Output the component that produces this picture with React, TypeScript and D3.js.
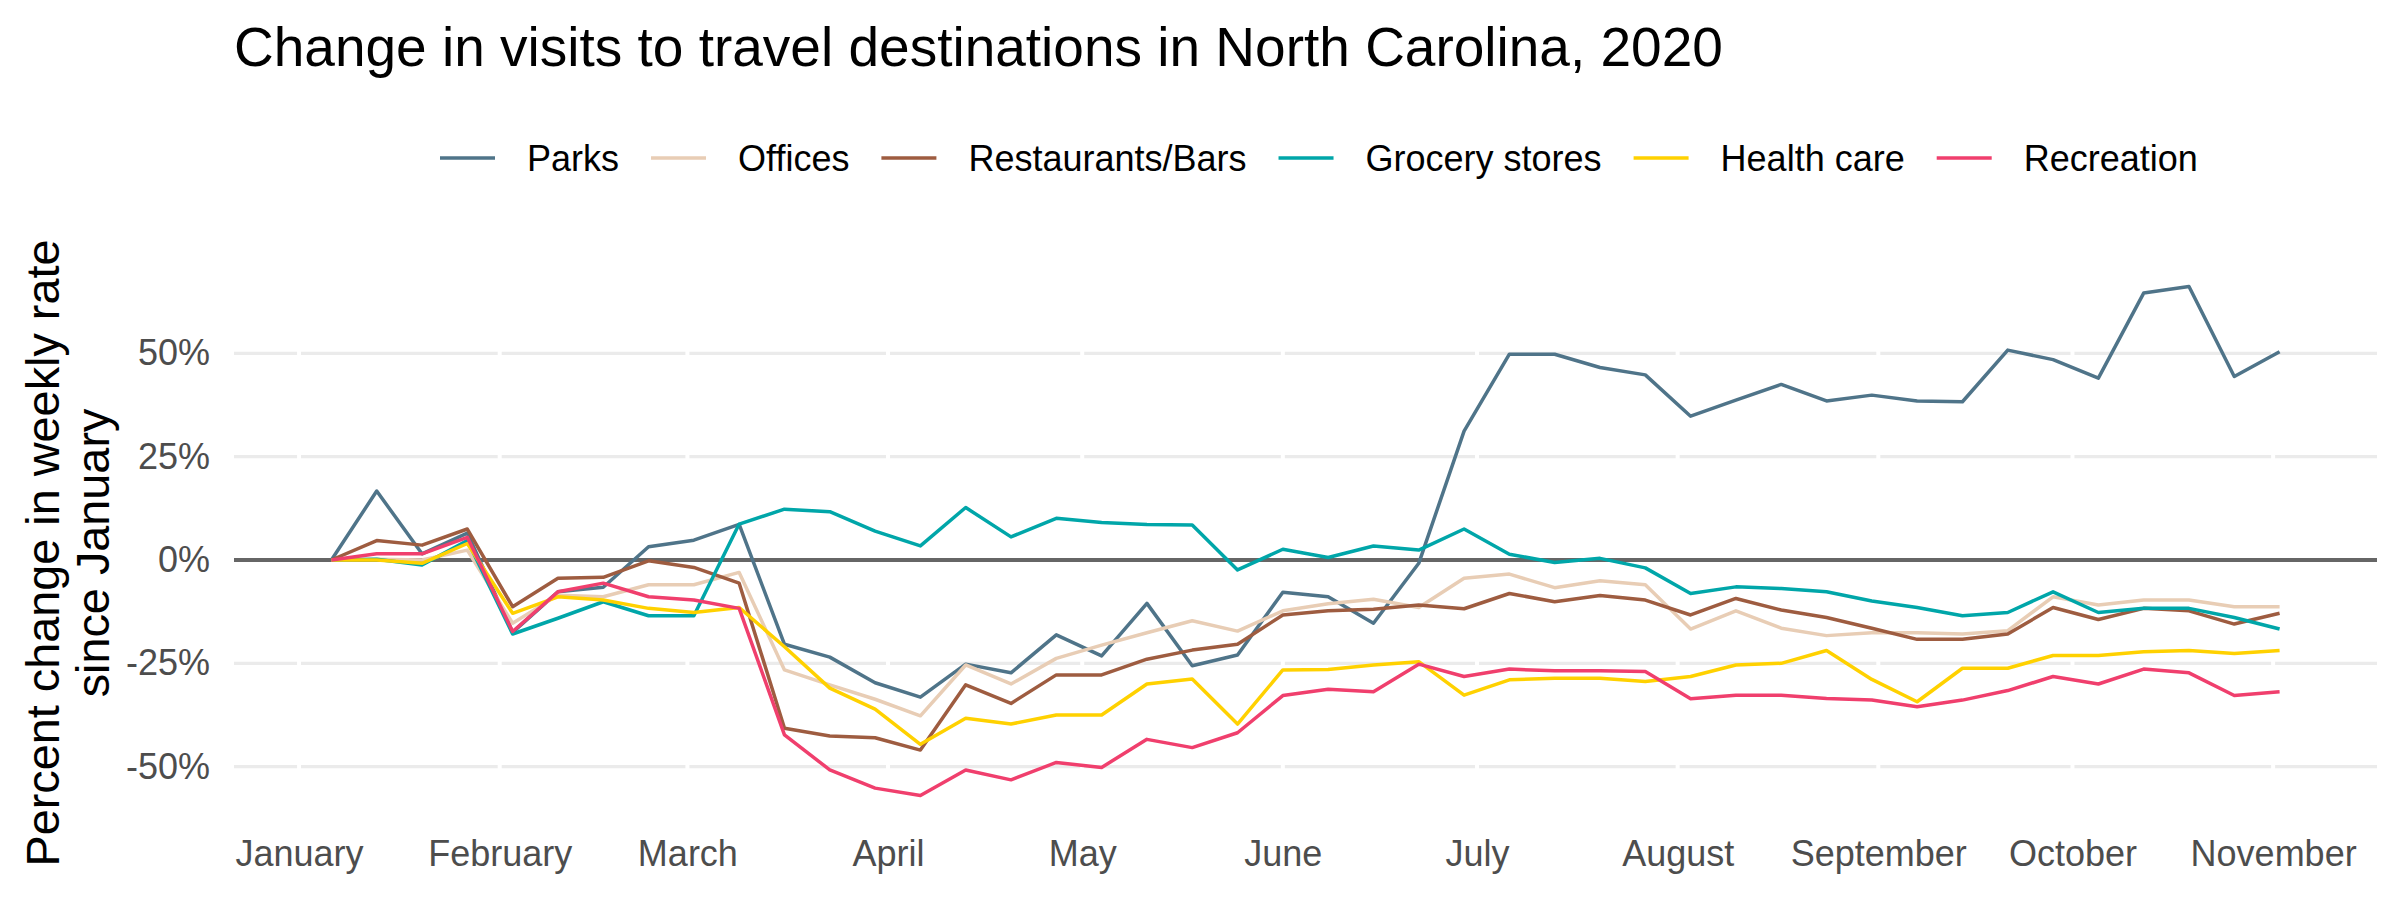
import * as d3 from 'd3';
import React from 'react';

// weekly observations (Mondays)
const weeks = [
    '2020-01-06', '2020-01-13', '2020-01-20', '2020-01-27',
    '2020-02-03', '2020-02-10', '2020-02-17', '2020-02-24',
    '2020-03-02', '2020-03-09', '2020-03-16', '2020-03-23', '2020-03-30',
    '2020-04-06', '2020-04-13', '2020-04-20', '2020-04-27',
    '2020-05-04', '2020-05-11', '2020-05-18', '2020-05-25',
    '2020-06-01', '2020-06-08', '2020-06-15', '2020-06-22', '2020-06-29',
    '2020-07-06', '2020-07-13', '2020-07-20', '2020-07-27',
    '2020-08-03', '2020-08-10', '2020-08-17', '2020-08-24', '2020-08-31',
    '2020-09-07', '2020-09-14', '2020-09-21', '2020-09-28',
    '2020-10-05', '2020-10-12', '2020-10-19', '2020-10-26',
    '2020-11-02',
];

// percent change since January, one value per week
const parks = [0, 16.7, 1.5, 6.5, -17.5, -7.7, -6.6, 3.2, 4.8, 8.6, -20.4, -23.5, -29.7, -33.2, -25.2, -27.3, -18.1, -23.2, -10.5, -25.6, -23.0, -7.8, -8.9, -15.3, -0.8, 31.2, 49.8, 49.8, 46.6, 44.8, 34.8, 38.7, 42.5, 38.5, 39.9, 38.5, 38.3, 50.8, 48.5, 44.0, 64.6, 66.2, 44.4, 50.4];
const offices = [0, 0.2, 0, 2.4, -15.3, -8.5, -8.9, -6.0, -6.0, -3.0, -26.6, -30.2, -33.7, -37.7, -25.4, -30.0, -23.8, -20.6, -17.6, -14.7, -17.2, -12.3, -10.6, -9.5, -11.5, -4.4, -3.4, -6.7, -5.0, -6.0, -16.7, -12.3, -16.5, -18.3, -17.6, -17.6, -17.9, -17.1, -8.9, -10.9, -9.7, -9.7, -11.3, -11.3];
const restaurants = [0, 4.7, 3.6, 7.5, -11.3, -4.4, -4.2, -0.2, -1.8, -5.6, -40.7, -42.6, -43.0, -46.0, -30.2, -34.7, -27.8, -27.8, -24.0, -21.8, -20.4, -13.3, -12.3, -11.9, -10.9, -11.8, -8.1, -10.1, -8.6, -9.7, -13.3, -9.3, -12.1, -13.9, -16.5, -19.2, -19.2, -17.9, -11.5, -14.4, -11.7, -12.3, -15.5, -12.9];
const grocery = [0, 0.2, -1.2, 4.7, -17.9, -14.1, -10.1, -13.5, -13.5, 8.7, 12.3, 11.7, 7.0, 3.4, 12.7, 5.6, 10.1, 9.1, 8.6, 8.5, -2.4, 2.6, 0.6, 3.4, 2.4, 7.5, 1.4, -0.6, 0.4, -1.9, -8.1, -6.5, -6.9, -7.7, -9.9, -11.5, -13.5, -12.7, -7.7, -12.7, -11.7, -11.7, -13.9, -16.7];
const healthCare = [0, 0, -0.8, 4.0, -12.9, -8.9, -9.7, -11.7, -12.7, -11.5, -21.0, -31.0, -36.1, -44.6, -38.3, -39.7, -37.5, -37.5, -30.0, -28.8, -39.7, -26.6, -26.5, -25.4, -24.6, -32.7, -29.0, -28.6, -28.6, -29.4, -28.2, -25.4, -25.0, -21.9, -28.9, -34.3, -26.2, -26.2, -23.1, -23.1, -22.2, -21.9, -22.6, -21.9];
const recreation = [0, 1.5, 1.5, 5.5, -17.3, -7.7, -5.6, -8.9, -9.7, -11.7, -42.3, -50.8, -55.2, -57.0, -50.8, -53.2, -49.0, -50.2, -43.4, -45.4, -41.8, -32.8, -31.3, -31.9, -25.2, -28.2, -26.4, -26.8, -26.8, -27.0, -33.6, -32.7, -32.7, -33.5, -33.9, -35.5, -33.9, -31.6, -28.2, -30.0, -26.4, -27.3, -32.8, -31.9];

const seriesNames = ['Parks', 'Offices', 'Restaurants/Bars', 'Grocery stores', 'Health care', 'Recreation'];
const seriesValues = [parks, offices, restaurants, grocery, healthCare, recreation];
const seriesColors = ['#4F7489', '#E8CDB5', '#9E5C40', '#00A6A9', '#FFD100', '#F03F6D'];

const monthBreaks = [
    '2020-01-01', '2020-02-01', '2020-03-01', '2020-04-01', '2020-05-01', '2020-06-01',
    '2020-07-01', '2020-08-01', '2020-09-01', '2020-10-01', '2020-11-01',
];
const monthLabels = ['January', 'February', 'March', 'April', 'May', 'June',
    'July', 'August', 'September', 'October', 'November'];

const yBreaks = [-50, -25, 0, 25, 50];
const yLabels = ['-50%', '-25%', '0%', '25%', '50%'];

const FONT = '"Liberation Sans", Arial, Helvetica, sans-serif';

class VisitsChart extends React.Component {
    componentDidMount() {
        this.plotLines(this.props.plotId);
    }

    plotLines(plotId) {
        const width = 2400;
        const height = 900;
        const panel = { left: 234, right: 2377, top: 261, bottom: 821 };

        const root = d3.select(`#${plotId}`);
        root.selectAll('*').remove();

        const svg = root.append('svg')
            .attr('width', width)
            .attr('height', height)
            .style('display', 'block')
            .style('font-family', FONT);

        svg.append('rect')
            .attr('width', width)
            .attr('height', height)
            .attr('fill', 'white');

        const parse = d3.utcParse('%Y-%m-%d');
        const dates = weeks.map(parse);

        const series = seriesNames.map((name, i) => ({
            name,
            color: seriesColors[i],
            values: seriesValues[i].map((v, j) => ({ date: dates[j], value: v })),
        }));

        // 5% padding on both scales
        const [x0, x1] = d3.extent(dates);
        const xPad = (x1 - x0) * 0.05;
        const xrange = d3.scaleUtc()
            .domain([new Date(+x0 - xPad), new Date(+x1 + xPad)])
            .range([panel.left, panel.right]);

        const allValues = seriesValues.flat();
        const [y0, y1] = d3.extent(allValues);
        const yPad = (y1 - y0) * 0.05;
        const yrange = d3.scaleLinear()
            .domain([y0 - yPad, y1 + yPad])
            .range([panel.bottom, panel.top]);

        // horizontal grid
        svg.append('g')
            .selectAll('line')
            .data(yBreaks)
            .enter()
            .append('line')
            .attr('x1', panel.left)
            .attr('x2', panel.right)
            .attr('y1', (d) => yrange(d))
            .attr('y2', (d) => yrange(d))
            .attr('stroke', '#EBEBEB')
            .attr('stroke-width', 3.2);

        // white month separators
        svg.append('g')
            .selectAll('line')
            .data(monthBreaks.map(parse))
            .enter()
            .append('line')
            .attr('x1', (d) => xrange(d))
            .attr('x2', (d) => xrange(d))
            .attr('y1', panel.top)
            .attr('y2', panel.bottom)
            .attr('stroke', 'white')
            .attr('stroke-width', 4);

        // zero reference
        svg.append('line')
            .attr('x1', panel.left)
            .attr('x2', panel.right)
            .attr('y1', yrange(0))
            .attr('y2', yrange(0))
            .attr('stroke', '#666666')
            .attr('stroke-width', 4);

        const line = d3.line()
            .x((d) => xrange(d.date))
            .y((d) => yrange(d.value));

        svg.append('g')
            .selectAll('path')
            .data(series)
            .enter()
            .append('path')
            .attr('d', (d) => line(d.values))
            .attr('fill', 'none')
            .attr('stroke', (d) => d.color)
            .attr('stroke-width', 3.5)
            .attr('stroke-linejoin', 'round');

        // x axis
        const xAxis = d3.axisBottom(xrange)
            .tickValues(monthBreaks.map(parse))
            .tickFormat((d, i) => monthLabels[i])
            .tickSize(0)
            .tickPadding(19);

        const gx = svg.append('g')
            .attr('transform', `translate(0,${panel.bottom})`)
            .call(xAxis);
        gx.select('.domain').remove();
        gx.selectAll('text')
            .attr('fill', '#4D4D4D')
            .style('font-size', '36px')
            .style('font-family', FONT);

        // y axis
        const yAxis = d3.axisLeft(yrange)
            .tickValues(yBreaks)
            .tickFormat((d, i) => yLabels[i])
            .tickSize(0)
            .tickPadding(24);

        const gy = svg.append('g')
            .attr('transform', `translate(${panel.left},0)`)
            .call(yAxis);
        gy.select('.domain').remove();
        gy.selectAll('text')
            .attr('fill', '#4D4D4D')
            .style('font-size', '36px')
            .style('font-family', FONT);

        // Y axis label, two lines
        const yTitle = ['Percent change in weekly rate', 'since January'];
        svg.append('g')
            .selectAll('text')
            .data(yTitle)
            .enter()
            .append('text')
            .attr('text-anchor', 'middle')
            .attr('fill', 'black')
            .style('font-size', '46.8px')
            .attr('transform', (d, i) => `translate(${59 + i * 50},553)rotate(-90)`)
            .text((d) => d);

        // title
        svg.append('text')
            .attr('x', panel.left)
            .attr('y', 66)
            .attr('fill', 'black')
            .style('font-size', '55px')
            .text('Change in visits to travel destinations in North Carolina, 2020');

        // legend
        const legend = svg.append('g');
        const keyWidth = 55;
        const gap = 32;
        const legendY = 158;
        let cursor = 440;
        series.forEach((s) => {
            legend.append('line')
                .attr('x1', cursor)
                .attr('x2', cursor + keyWidth)
                .attr('y1', legendY)
                .attr('y2', legendY)
                .attr('stroke', s.color)
                .attr('stroke-width', 3.5);
            const label = legend.append('text')
                .attr('x', cursor + keyWidth + gap)
                .attr('y', legendY)
                .attr('dy', '0.35em')
                .attr('fill', 'black')
                .style('font-size', '36px')
                .text(s.name);
            const w = label.node().getComputedTextLength();
            cursor += keyWidth + gap + w + gap;
        });
    }

    render() {
        return <div id={this.props.plotId} style={{ position: 'absolute', left: 0, top: 0 }} />;
    }
}

export default function App() {
    return <VisitsChart plotId="visits-plot" />;
}
